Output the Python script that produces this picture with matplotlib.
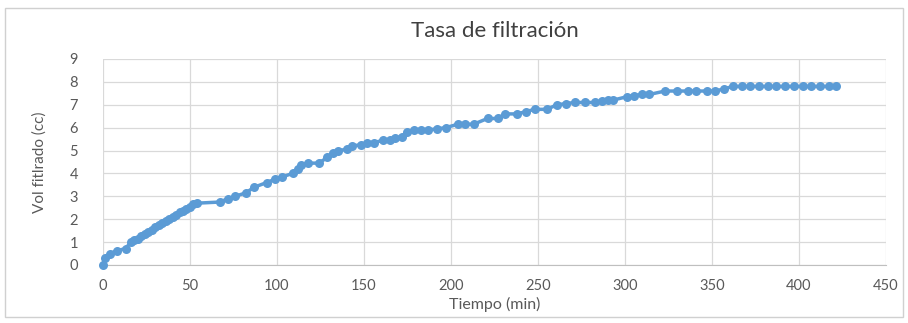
import matplotlib.pyplot as plt
from matplotlib.patches import Rectangle

# filtration test: cumulative filtrate volume vs time
tiempo = [0, 1, 4, 8, 13, 16, 18, 20, 22, 24, 26, 28, 30, 32, 34, 36, 38, 40, 42, 44,
          46, 48, 50, 52, 54,
          67, 72, 76, 82, 87, 94, 99, 103, 109, 112, 114, 118, 124, 129, 132, 135,
          140, 143, 148, 152, 156, 161, 165, 168, 172,
          175, 179, 183, 187, 192, 197, 204, 208, 213, 221, 227,
          231, 238, 243, 248, 255, 261, 266, 271, 277, 283, 287,
          290, 293, 301, 305, 310, 314, 323, 330, 336, 341, 347, 352, 357, 362,
          367, 372, 377, 382, 387, 392, 397, 402, 407, 412, 417, 421]
volumen = [0, 0.3, 0.5, 0.62, 0.72, 1.0, 1.08, 1.15, 1.25, 1.35, 1.45, 1.55, 1.65, 1.73,
           1.82, 1.9, 2.0, 2.08, 2.2, 2.3, 2.38, 2.45, 2.55, 2.65, 2.7,
           2.75, 2.9, 3.0, 3.15, 3.4, 3.6, 3.75, 3.85, 4.0, 4.2, 4.35, 4.45, 4.45, 4.7,
           4.9, 5.0, 5.05, 5.2, 5.25, 5.35, 5.35, 5.45, 5.45, 5.55, 5.6,
           5.8, 5.9, 5.9, 5.9, 5.95, 6.0, 6.15, 6.15, 6.15, 6.4, 6.4,
           6.6, 6.6, 6.7, 6.8, 6.8, 7.0, 7.05, 7.1, 7.1, 7.1, 7.15,
           7.2, 7.2, 7.35, 7.4, 7.45, 7.45, 7.6, 7.6, 7.6, 7.6, 7.6, 7.6, 7.7, 7.8,
           7.8, 7.8, 7.8, 7.8, 7.8, 7.8, 7.8, 7.8, 7.8, 7.8, 7.8, 7.8]

xticks = [0, 50, 100, 150, 200, 250, 300, 350, 400, 450]
yticks = [0, 1, 2, 3, 4, 5, 6, 7, 8, 9]

plt.rcParams['font.family'] = ['Lato', 'DejaVu Sans']
azul = '#5B9BD5'
gris = '#595959'

fig = plt.figure(figsize=(9.08, 3.23), dpi=100)
fig.patches.append(Rectangle((0.006, 0.02), 0.988, 0.955, transform=fig.transFigure,
                             fill=False, edgecolor='#d0d0d0', linewidth=1))
ax = fig.add_axes([0.1134, 0.1796, 0.8624, 0.6378])

ax.plot(tiempo, volumen, color=azul, linewidth=2.5, marker='o', markersize=6.5,
        markeredgewidth=0, zorder=3, clip_on=False)

ax.set_xlim(0, 450)
ax.set_ylim(0, 9)
ax.set_xticks(xticks)
ax.set_yticks(yticks)
ax.grid(True, color='#d9d9d9', linewidth=0.9)
ax.set_axisbelow(True)
for s in ['top', 'right', 'left']:
    ax.spines[s].set_visible(False)
ax.spines['bottom'].set_color('#bfbfbf')
ax.tick_params(length=0, labelsize=10.5, labelcolor=gris)
ax.tick_params(axis='x', pad=10)
ax.tick_params(axis='y', pad=18)

ax.set_title('Tasa de filtración', fontsize=16, color='#404040', pad=16)
ax.set_xlabel('Tiempo (min)', fontsize=11.5, color=gris, labelpad=3)
ax.set_ylabel('Vol fitlrado (cc)', fontsize=11, color=gris, labelpad=16)

fig.savefig('out.png', dpi=100)
